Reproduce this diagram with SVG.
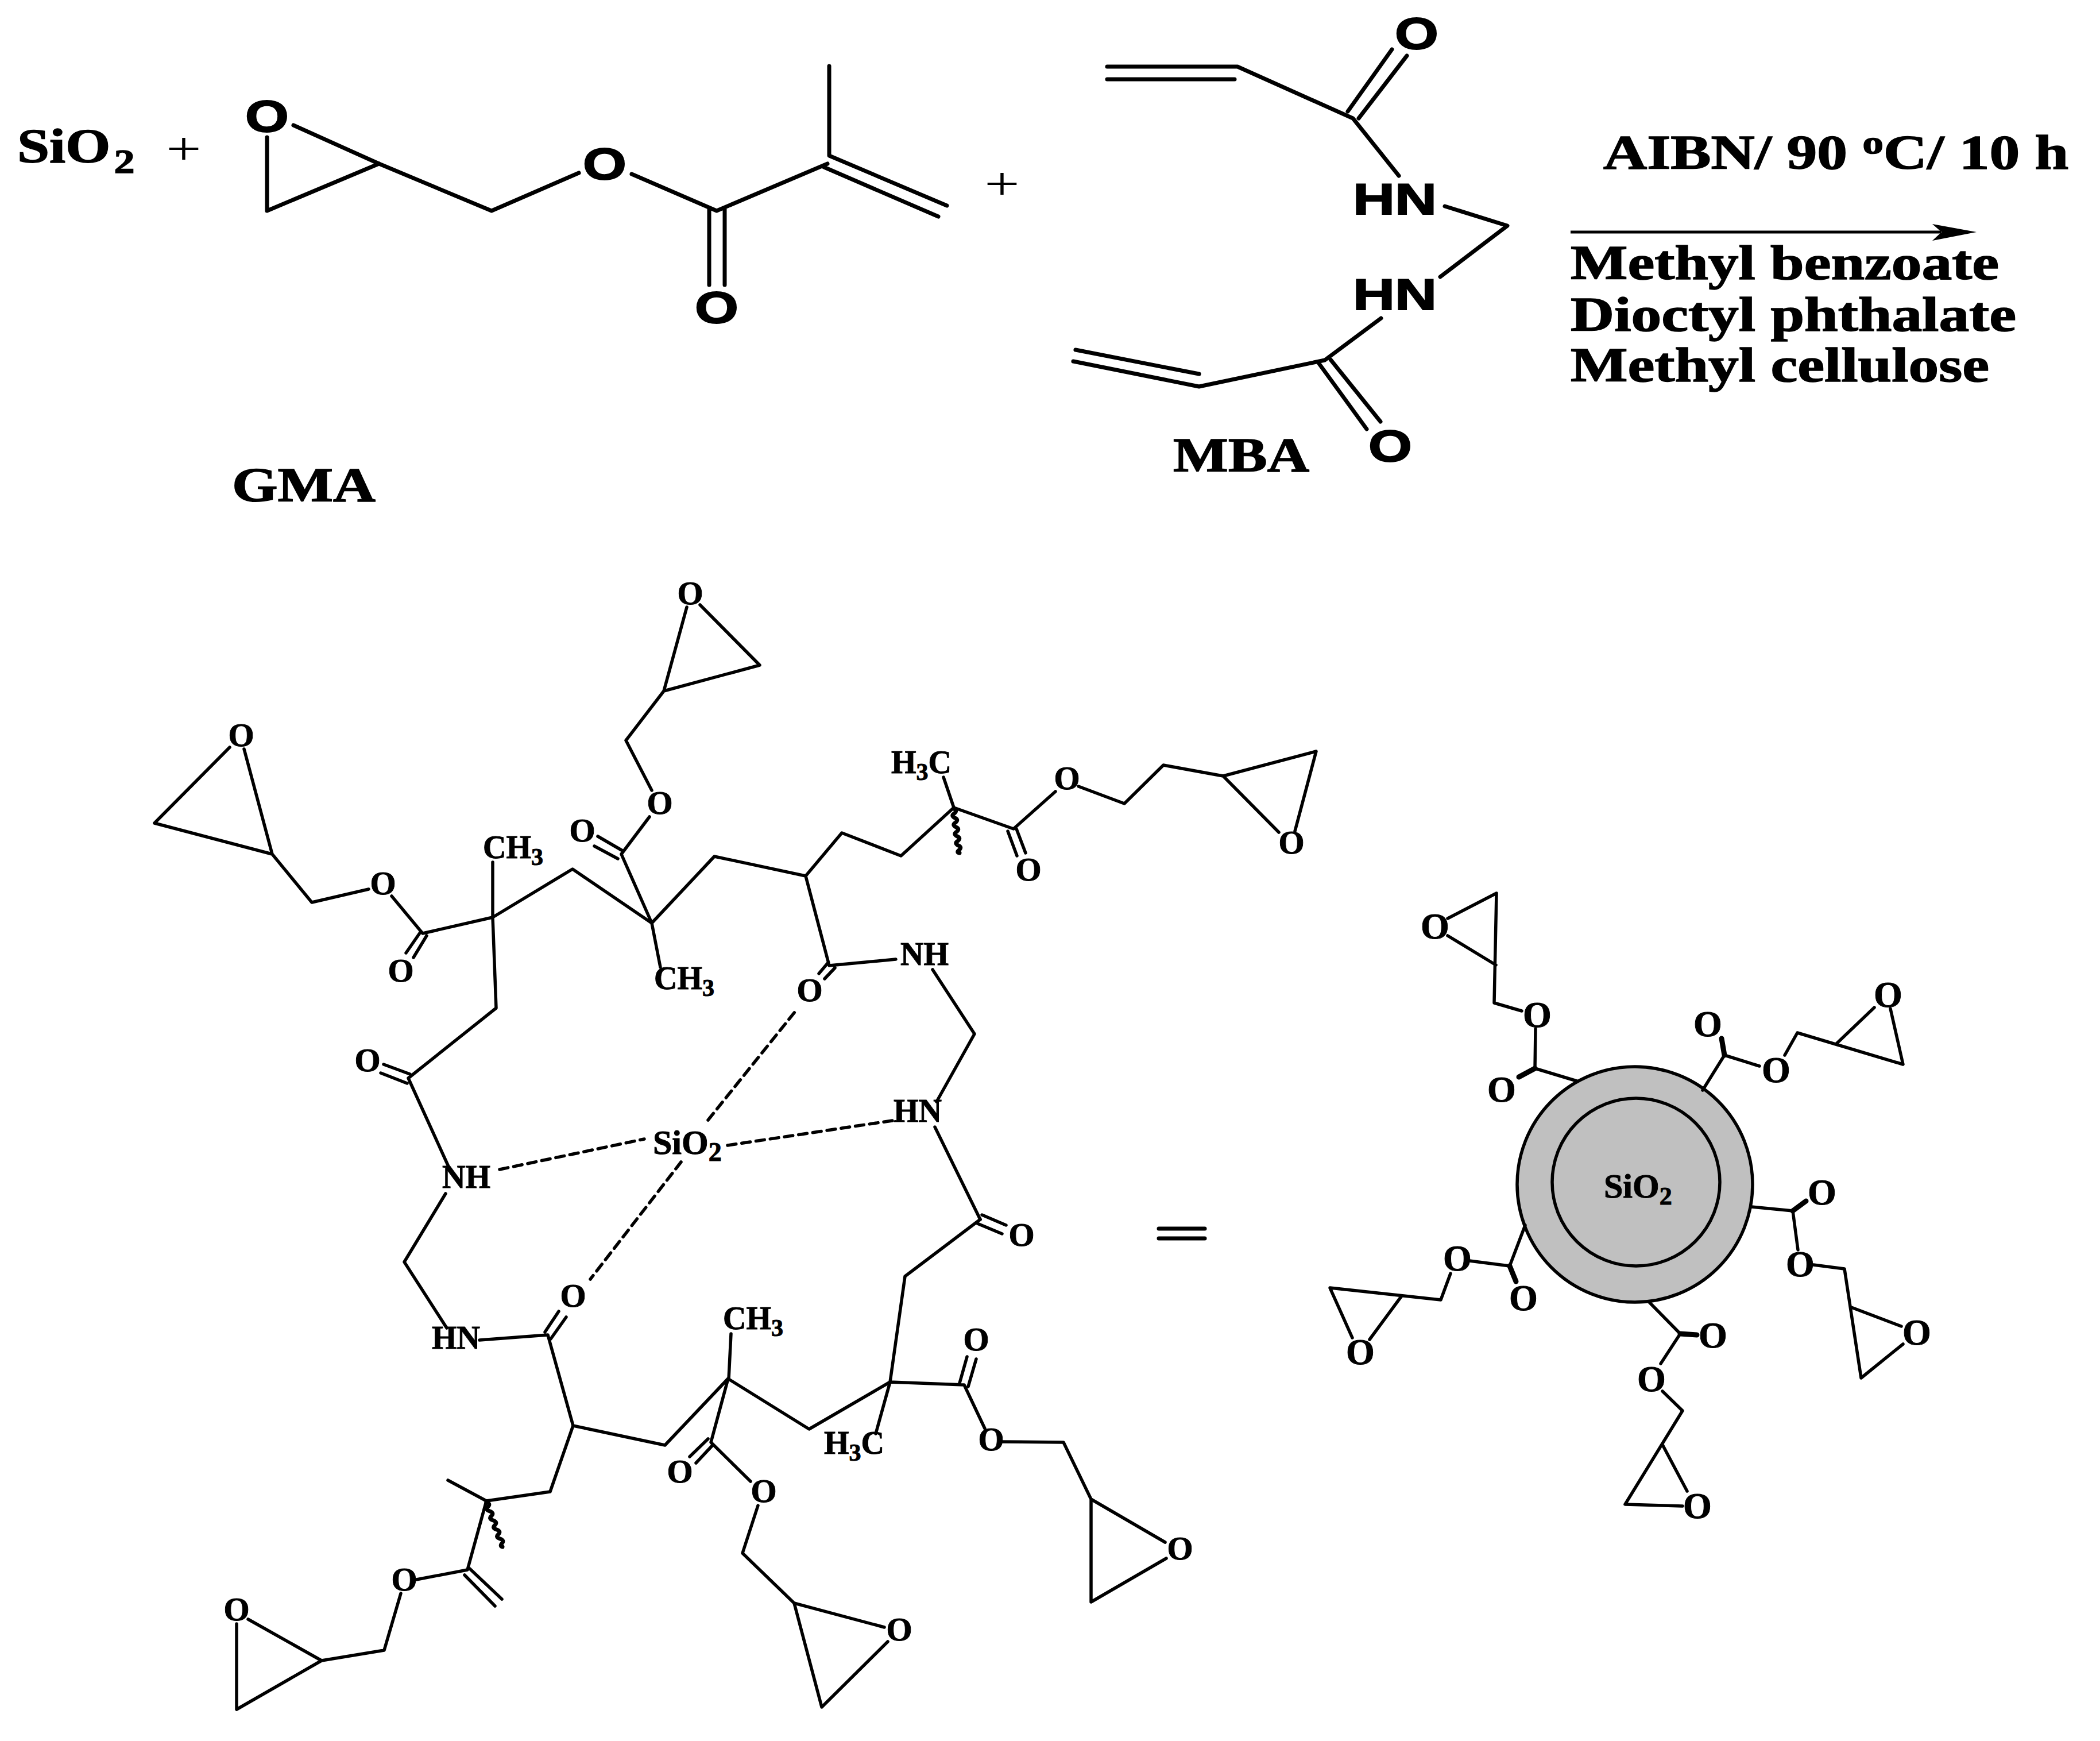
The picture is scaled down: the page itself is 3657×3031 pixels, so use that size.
<svg xmlns="http://www.w3.org/2000/svg" width="3657" height="3031" viewBox="0 0 3657 3031">
<style>
text{fill:#000;stroke:#000;stroke-width:1;font-family:"Liberation Serif","Times New Roman",serif;font-weight:bold}
.s{font-family:"Liberation Sans",Arial,sans-serif;stroke-width:2}
.a{font-size:78px;text-anchor:middle}
.h{font-size:76px}
.t{font-size:84px;stroke-width:1.5}
.o{font-size:58px;text-anchor:middle}
.p{font-size:64px;text-anchor:middle}
.l{font-size:60px}
.n{font-size:56px}
.plus{font-weight:normal;font-size:80px;text-anchor:middle;stroke-width:0}
.u{font-size:42px}
.k6,.k4,.d,.th{fill:none;stroke:#000;stroke-linecap:round;stroke-linejoin:round}
.k6{stroke-width:7}
.k4{stroke-width:5.5}
.d{stroke-width:5.5;stroke-dasharray:15 10}
.th{stroke-width:9}
.ring{fill:#c0c0c0;stroke:#000;stroke-width:5.5}
</style>
<rect width="3657" height="3031" fill="#fff"/>

<g id="sio2-reagent">
<text class="t" transform="translate(30 283) scale(1.2 1)">SiO<tspan dx="5" dy="18" font-size="60">2</tspan></text>
<text class="plus" transform="translate(320 286) scale(1.36 1)">+</text>
</g>

<g id="gma">
<path class="k6" d="M465 239V367L660 285M511 218L660 285L856 367L1008 301M1100 303L1248 367L1441 285M1444 115V271L1649 358M1435 291L1634 377M1235 364V496M1262 364V496"/>
<text class="a s" transform="translate(465 229) scale(1.25 1)">O</text>
<text class="a s" transform="translate(1053 312) scale(1.25 1)">O</text>
<text class="a s" transform="translate(1248 562) scale(1.25 1)">O</text>
<text class="t" x="404" y="873" textLength="250" lengthAdjust="spacingAndGlyphs">GMA</text>
</g>

<g id="plus-2"><text class="plus" transform="translate(1745 347) scale(1.36 1)">+</text></g>

<g id="mba">
<path class="k6" d="M1928 116H2155L2356 206L2436 306M1928 138H2150M2347 194L2424 86M2366 206L2450 97M2516 359L2625 393L2508 482M2405 554L2307 627L2088 673L1869 629M2088 651L1873 609M2297 633L2380 747M2317 626L2404 734"/>
<text class="a s" transform="translate(2467 85) scale(1.25 1)">O</text>
<text class="h s" x="2356" y="373" textLength="146" lengthAdjust="spacingAndGlyphs">HN</text>
<text class="h s" x="2356" y="539" textLength="146" lengthAdjust="spacingAndGlyphs">HN</text>
<text class="a s" transform="translate(2421 803) scale(1.25 1)">O</text>
<text class="t" x="2043" y="821" textLength="237" lengthAdjust="spacingAndGlyphs">MBA</text>
</g>

<g id="conditions">
<text class="t" transform="translate(2792 294) scale(1.256 1)">AIBN/ 90 <tspan font-size="58" dy="-27">o</tspan><tspan dy="27">C/ 10 h</tspan></text>
<path d="M2735 404H3380" stroke="#000" stroke-width="5" fill="none"/>
<path d="M3365 390L3442 404L3365 419L3381 404Z" fill="#000"/>
<text class="t" x="2735" y="486" textLength="746" lengthAdjust="spacingAndGlyphs">Methyl benzoate</text>
<text class="t" x="2735" y="576" textLength="776" lengthAdjust="spacingAndGlyphs">Dioctyl phthalate</text>
<text class="t" x="2735" y="664" textLength="729" lengthAdjust="spacingAndGlyphs">Methyl cellulose</text>
</g>

<g id="connectors">
<path class="d" d="M870 2036L1122 1983M1267 1994L1560 1950M1233 1950L1388 1757M1186 2023L1028 2227"/>
</g>

<g id="polymer-top">
<path class="k4" d="M400 1301L269 1433L474 1487L425 1304M474 1487L543 1571L642 1548M682 1560L736 1625L858 1597M732 1623L707 1659M743 1629L720 1667M858 1501L858 1597L864 1755L711 1877L782 2033M858 1597L997 1513L1135 1607L1082 1487L1131 1422M1041 1456L1084 1481M1035 1473L1076 1495M1135 1376L1090 1289L1156 1203L1196 1057M1156 1203L1323 1158L1219 1053M1135 1607L1244 1491L1403 1525L1466 1450L1569 1490L1661 1406L1765 1443L1838 1378M1135 1607L1150 1684M668 1853L714 1870M663 1868L709 1886M1878 1369L1958 1399L2026 1332L2130 1351L2292 1308L2255 1447M2130 1351L2227 1449M1643 1353L1661 1406M1755 1447L1771 1490M1770 1443L1786 1485M1403 1525L1444 1681L1560 1670M1426 1695L1442 1676M1436 1704L1454 1685M1624 1688L1697 1800L1631 1918M1628 1962L1707 2123"/>
<path class="k6" d="M1661 1408q7 3 1 8q-7 4 1 8q7 3 1 8q-7 4 1 8q7 3 1 8q-7 4 1 8q7 3 1 8q-7 4 1 8q7 3 1 8q-5 4 1 5"/>
<text class="o" x="420" y="1299">O</text>
<text class="o" x="667" y="1557">O</text>
<text class="o" x="698" y="1709">O</text>
<text class="n" x="841" y="1494">CH<tspan class="u" dy="12">3</tspan></text>
<text class="o" x="1014" y="1465">O</text>
<text class="o" x="1149" y="1417">O</text>
<text class="o" x="1202" y="1052">O</text>
<text class="n" x="1139" y="1722">CH<tspan class="u" dy="12">3</tspan></text>
<text class="o" x="640" y="1865">O</text>
<text class="o" x="1858" y="1374">O</text>
<text class="o" x="2249" y="1486">O</text>
<text class="n" x="1552" y="1346">H<tspan class="u" dy="12">3</tspan><tspan dy="-12">C</tspan></text>
<text class="o" x="1791" y="1533">O</text>
<text class="n" x="1568" y="1680">NH</text>
<text class="n" x="1556" y="1953">HN</text>
<text class="o" x="1410" y="1743">O</text>
<text class="n" x="770" y="2068">NH</text>
<text class="l" x="1137" y="2009">SiO<tspan font-size="46" dy="12">2</tspan></text>
</g>

<g id="polymer-bottom">
<path class="k4" d="M776 2078L704 2197L778 2312M835 2333L954 2324L998 2482L958 2597L847 2613L780 2577M847 2613L814 2733L725 2750M949 2319L973 2283M959 2331L986 2293M818 2731L874 2784M809 2742L862 2796M698 2774L669 2873L560 2891L412 2976V2827M560 2891L432 2819M998 2482L1158 2516L1268 2400L1238 2511L1307 2579M1233 2505L1201 2536M1241 2516L1212 2547M1320 2621L1293 2704L1383 2791L1540 2833M1383 2791L1431 2972L1546 2858M1707 2123L1576 2222L1550 2406L1679 2411L1715 2487M1710 2115L1752 2133M1702 2130L1745 2148M1550 2406L1525 2496M1550 2406L1409 2488L1269 2401L1273 2322M1671 2408L1684 2362M1686 2414L1700 2366M1745 2510L1852 2511L1900 2610L2029 2685M1900 2610V2789L2031 2713"/>
<path class="k6" d="M847 2615q8 3 3 8q-6 5 3 8q8 3 3 8q-6 5 3 8q8 3 3 8q-6 5 3 8q8 3 3 8q-6 5 3 8q8 3 3 8q-4 5 1 6"/>
<text class="n" x="752" y="2348">HN</text>
<text class="o" x="998" y="2275">O</text>
<text class="o" x="704" y="2769">O</text>
<text class="o" x="412" y="2821">O</text>
<text class="n" x="1259" y="2314">CH<tspan class="u" dy="12">3</tspan></text>
<text class="o" x="1184" y="2581">O</text>
<text class="o" x="1330" y="2615">O</text>
<text class="o" x="1566" y="2856">O</text>
<text class="o" x="1779" y="2169">O</text>
<text class="o" x="1700" y="2351">O</text>
<text class="o" x="1726" y="2525">O</text>
<text class="o" x="2055" y="2715">O</text>
<text class="n" x="1435" y="2531">H<tspan class="u" dy="12">3</tspan><tspan dy="-12">C</tspan></text>
</g>

<g id="equals"><path class="k6" d="M2018 2139H2098M2018 2156H2098"/></g>

<g id="particle">
<circle class="ring" cx="2847" cy="2062" r="205"/>
<circle class="ring" cx="2849" cy="2058" r="146"/>
<text class="l" x="2793" y="2085">SiO<tspan font-size="44" dy="12">2</tspan></text>
<path class="k4" d="M2746 1882L2673 1860L2674 1791M2650 1760L2602 1746L2606 1555L2521 1599M2521 1629L2605 1680"/>
<path class="th" d="M2673 1860L2645 1875"/>
<text class="p" x="2677" y="1788">O</text><text class="p" x="2499" y="1634">O</text><text class="p" x="2615" y="1918">O</text>
<path class="k4" d="M2965 1898L3003 1837L3064 1856M3108 1837L3130 1798L3314 1853L3292 1756M3198 1817L3264 1754"/>
<path class="th" d="M3003 1837L2998 1808"/>
<text class="p" x="2974" y="1804">O</text><text class="p" x="3093" y="1884">O</text><text class="p" x="3288" y="1753">O</text>
<path class="k4" d="M3050 2101L3122 2108L3131 2176M3158 2202L3212 2209L3241 2399L3314 2340M3224 2276L3311 2309"/>
<path class="th" d="M3122 2108L3145 2091"/>
<text class="p" x="3173" y="2097">O</text><text class="p" x="3135" y="2222">O</text><text class="p" x="3338" y="2341">O</text>
<path class="k4" d="M2872 2267L2926 2322L2892 2374M2895 2422L2930 2456L2830 2619L2930 2622M2895 2515L2938 2596"/>
<path class="th" d="M2926 2322L2955 2324"/>
<text class="p" x="2983" y="2346">O</text><text class="p" x="2876" y="2422">O</text><text class="p" x="2956" y="2643">O</text>
<path class="k4" d="M2656 2133L2629 2204L2559 2195M2526 2217L2509 2263L2316 2242L2355 2329M2441 2256L2385 2332"/>
<path class="th" d="M2629 2204L2640 2231"/>
<text class="p" x="2653" y="2281">O</text><text class="p" x="2538" y="2212">O</text><text class="p" x="2369" y="2375">O</text>
</g>
</svg>
